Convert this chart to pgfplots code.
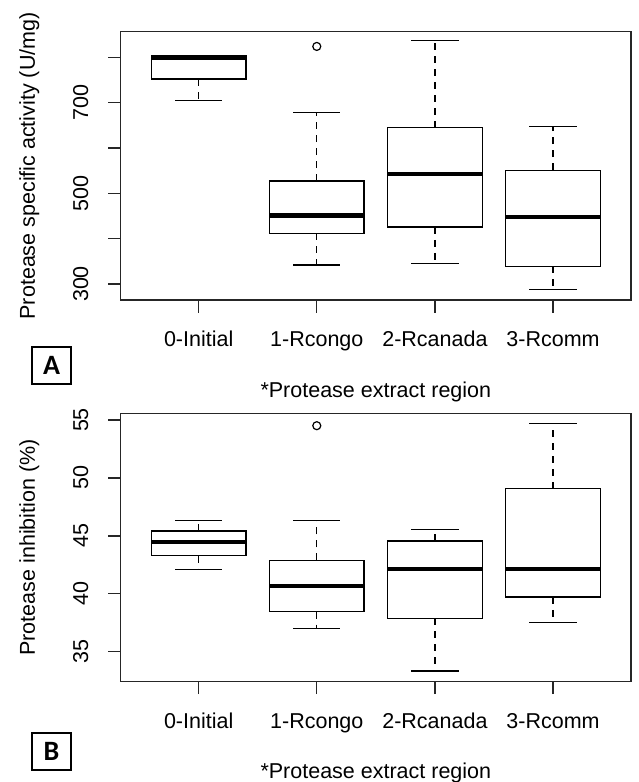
\documentclass[border=0pt]{standalone}
\usepackage{pgfplots}
\pgfplotsset{compat=1.18}
\usepgfplotslibrary{statistics}
\usepackage{fontspec}
\setmainfont{Liberation Sans}
\newfontfamily\panelfont{Carlito}

\pgfplotsset{
  % R-style box: dashed whisker stems, solid caps, thick median
  rbox/.style={
    black, solid, line width=1.3pt,
    mark=o, mark size=4pt, mark options={solid, line width=1.2pt},
    boxplot/draw direction=y,
    boxplot/box extend=0.8,
    boxplot/whisker extend=0.4,
    boxplot/every median/.style={line width=4.5pt},
    boxplot/draw/lower whisker/.code={
      \draw[dash pattern=on 7pt off 6pt]
        (boxplot box cs:\pgfplotsboxplotvalue{lower quartile},0.5) --
        (boxplot box cs:\pgfplotsboxplotvalue{lower whisker},0.5);
      \draw (boxplot whisker cs:\pgfplotsboxplotvalue{lower whisker},0) --
        (boxplot whisker cs:\pgfplotsboxplotvalue{lower whisker},1);
    },
    boxplot/draw/upper whisker/.code={
      \draw[dash pattern=on 7pt off 6pt]
        (boxplot box cs:\pgfplotsboxplotvalue{upper quartile},0.5) --
        (boxplot box cs:\pgfplotsboxplotvalue{upper whisker},0.5);
      \draw (boxplot whisker cs:\pgfplotsboxplotvalue{upper whisker},0) --
        (boxplot whisker cs:\pgfplotsboxplotvalue{upper whisker},1);
    },
  },
  panel/.style={
    scale only axis, anchor=south west,
    width=510.3pt,
    xmin=0.34, xmax=4.66,
    xtick={1,2,3,4},
    xticklabels={0-Initial,1-Rcongo,2-Rcanada,3-Rcomm},
    xtick pos=lower, ytick pos=left,
    tick align=outside, major tick length=12.5pt,
    minor tick num=0,
    axis line style={line width=1.4pt, black!85},
    tick style={line width=1.3pt, black!85},
    font=\fontsize{21.5}{24}\selectfont,
    ticklabel style={font=\fontsize{21.5}{24}\selectfont},
    xticklabel style={anchor=base, inner sep=0pt, yshift=-34pt},
    yticklabel style={xshift=-20pt, rotate=90, anchor=base, inner sep=0pt},
    xlabel style={at={(axis description cs:0.5,0)}, anchor=base, yshift=-97pt},
    ylabel style={at={(axis description cs:-0.168,0.5)}, anchor=base, rotate=0},
    /pgf/number format/assume math mode=true,
  },
}

\begin{document}
\begin{tikzpicture}
\path[use as bounding box] (0pt,0pt) rectangle (638pt,-782pt);

% Panel A: protease specific activity
\begin{axis}[panel,
  at={(120.7pt,-300pt)}, height=268.3pt,
  ymin=264.7, ymax=856.5,
  ytick={300,400,500,600,700,800},
  yticklabels={300,,500,,700,},
  ylabel={Protease specific activity (U/mg)},
  xlabel={*Protease extract region}]
\addplot[rbox, boxplot prepared={draw position=1,
  lower whisker=704, lower quartile=752, median=800,
  upper quartile=803, upper whisker=803}] coordinates {};
\addplot[rbox, boxplot prepared={draw position=2,
  lower whisker=342, lower quartile=412, median=451,
  upper quartile=527, upper whisker=679}]
  table[row sep=\\, y index=0] {v\\ 824\\};
\addplot[rbox, boxplot prepared={draw position=3,
  lower whisker=345, lower quartile=426, median=543,
  upper quartile=645, upper whisker=837}] coordinates {};
\addplot[rbox, boxplot prepared={draw position=4,
  lower whisker=288, lower quartile=339, median=448,
  upper quartile=551, upper whisker=648}] coordinates {};
\end{axis}

% Panel B: protease inhibition
\begin{axis}[panel,
  at={(120.7pt,-681.7pt)}, height=268.4pt,
  ymin=32.41, ymax=55.58,
  ytick={35,40,45,50,55},
  yticklabels={35,40,45,50,55},
  ylabel={Protease inhibition (\%)},
  xlabel={*Protease extract region}]
\addplot[rbox, boxplot prepared={draw position=1,
  lower whisker=42.12, lower quartile=43.29, median=44.47,
  upper quartile=45.42, upper whisker=46.33}] coordinates {};
\addplot[rbox, boxplot prepared={draw position=2,
  lower whisker=37.01, lower quartile=38.47, median=40.68,
  upper quartile=42.89, upper whisker=46.33}]
  table[row sep=\\, y index=0] {v\\ 54.51\\};
\addplot[rbox, boxplot prepared={draw position=3,
  lower whisker=33.34, lower quartile=37.87, median=42.12,
  upper quartile=44.56, upper whisker=45.53}] coordinates {};
\addplot[rbox, boxplot prepared={draw position=4,
  lower whisker=37.50, lower quartile=39.73, median=42.12,
  upper quartile=49.06, upper whisker=54.71}] coordinates {};
\end{axis}

% Panel tags
\node[draw, line width=1.8pt, minimum width=39pt, minimum height=37pt,
  inner sep=0pt, font=\panelfont\bfseries\fontsize{28}{28}\selectfont]
  at (51.5pt,-365.5pt) {A};
\node[draw, line width=1.8pt, minimum width=39pt, minimum height=37pt,
  inner sep=0pt, font=\panelfont\bfseries\fontsize{28}{28}\selectfont]
  at (51.5pt,-751.5pt) {B};
\end{tikzpicture}
\end{document}
